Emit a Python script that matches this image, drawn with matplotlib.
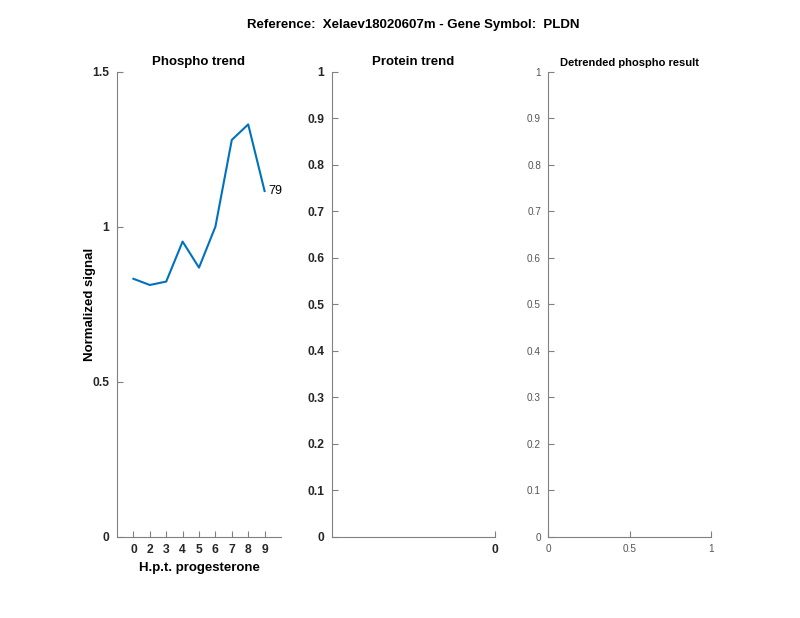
import matplotlib
matplotlib.use("Agg")
import matplotlib.pyplot as plt

plt.rcParams['font.family'] = ['Liberation Sans', 'DejaVu Sans']

suptitle = "Reference:  Xelaev18020607m - Gene Symbol:  PLDN"
time_labels = ["0", "2", "3", "4", "5", "6", "7", "8", "9"]
phospho_values = [0.832, 0.812, 0.823, 0.952, 0.868, 1.0, 1.280, 1.330, 1.115]
peptide_label = "79"
phospho_yticks = [0, 0.5, 1, 1.5]
phospho_yticklabels = ["0", "0.5", "1", "1.5"]
protein_yticks = [0, 0.1, 0.2, 0.3, 0.4, 0.5, 0.6, 0.7, 0.8, 0.9, 1]
detr_xticks = [0, 0.5, 1]

W, H = 800, 618
fig = plt.figure(figsize=(8, 6.18), dpi=100)

B, T = 536.7, 71.7

def pos(l, r, b=B, t=T):
    return [l / W, (H - b) / H, (r - l) / W, (b - t) / H]

spine_c = '#808080'
line_c = '#0072BD'

def style(ax, bold=True, size=8.7, pad=4):
    for s in ['top', 'right']:
        ax.spines[s].set_visible(False)
    for s in ['left', 'bottom']:
        ax.spines[s].set_color(spine_c)
        ax.spines[s].set_linewidth(0.8)
    ax.tick_params(direction='in', length=4, color=spine_c, width=0.8,
                   labelsize=size, pad=pad,
                   labelcolor='#262626' if bold else '#555555')
    for lab in ax.get_xticklabels() + ax.get_yticklabels():
        lab.set_fontweight('bold' if bold else 'normal')

# Phospho trend
ax1 = fig.add_axes(pos(117, 281))
x = list(range(1, len(phospho_values) + 1))
ax1.plot(x, phospho_values, color=line_c, linewidth=1.5)
ax1.set_xlim(0, 10)
ax1.set_ylim(0, 1.5)
ax1.set_xticks(x)
ax1.set_xticklabels(time_labels)
ax1.set_yticks(phospho_yticks)
ax1.set_yticklabels(phospho_yticklabels)
ax1.text(x[-1] + 0.25, phospho_values[-1], peptide_label, fontsize=9,
         va='center', ha='left', color='#000000')
style(ax1, True, 8.7, 5.5)
ax1.set_title("Phospho trend", fontsize=9.5, fontweight='bold', pad=5)
ax1.set_xlabel("H.p.t. progesterone", fontsize=9.5, fontweight='bold')
ax1.set_ylabel("Normalized signal", fontsize=9.5, fontweight='bold')
ax1.xaxis.set_label_coords(0.5, (B - 562) / (B - T))
ax1.yaxis.set_label_coords((96 - 117) / 164, 0.5)

# Protein trend
ax2 = fig.add_axes(pos(332, 495))
ax2.set_xlim(-1, 0)
ax2.set_ylim(0, 1)
ax2.set_xticks([0])
ax2.set_xticklabels(["0"])
ax2.set_yticks(protein_yticks)
ax2.set_yticklabels([f"{v:g}" for v in protein_yticks])
style(ax2, True, 8.7, 5.5)
ax2.set_title("Protein trend", fontsize=9.5, fontweight='bold', pad=5)

# Detrended
ax3 = fig.add_axes(pos(548, 711))
ax3.set_xlim(0, 1)
ax3.set_ylim(0, 1)
ax3.set_xticks(detr_xticks)
ax3.set_xticklabels([f"{v:g}" for v in detr_xticks])
ax3.set_yticks(protein_yticks)
ax3.set_yticklabels([f"{v:g}" for v in protein_yticks])
style(ax3, False, 7.2, 5)
ax3.set_title("Detrended phospho result", fontsize=8, fontweight='bold', pad=4)

fig.text(413 / W, 1 - 25 / H, suptitle, fontsize=9.5, fontweight='bold',
         ha='center', va='center')

fig.savefig("out.png", dpi=100)
